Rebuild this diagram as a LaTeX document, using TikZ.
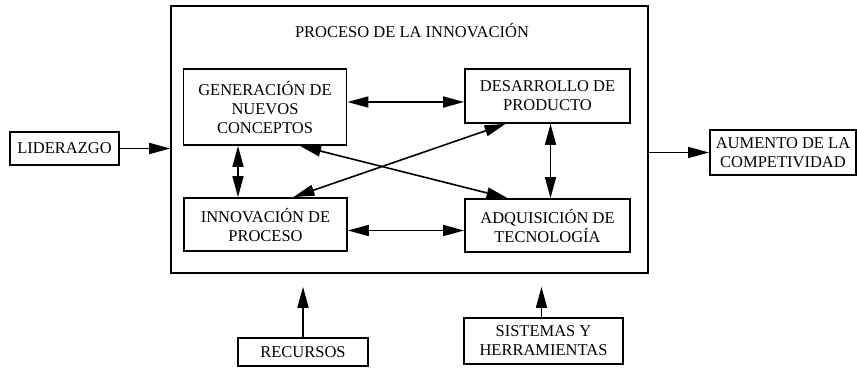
\documentclass[tikz,border=0pt]{standalone}
\usepackage{fontspec}
\setmainfont{Liberation Serif}
\usetikzlibrary{arrows.meta}

\begin{document}
\begin{tikzpicture}[x=1pt,y=-1pt,
  font=\fontsize{16.5}{19}\selectfont,
  caja/.style={draw,line width=1.8pt,align=center,inner sep=0pt},
  >={Triangle[length=21pt,width=11pt]}]
\pgfsetlinewidth{1.6pt}
\useasboundingbox (0,0) rectangle (857,367);
%
% proceso de la innovacion
\node[caja,line width=1.6pt,minimum width=477,minimum height=267] (proc) at (409.5,139.5) {};
\node (titulo) at (412,31) {PROCESO DE LA INNOVACIÓN};
\node[caja,minimum width=163,minimum height=76] (gen) at (265,107) {GENERACIÓN DE\\NUEVOS\\CONCEPTOS};
\node[caja,minimum width=165,minimum height=54] (des) at (547.5,96) {DESARROLLO DE\\PRODUCTO};
\node[caja,minimum width=163,minimum height=53] (inn) at (265.5,224.5) {INNOVACIÓN DE\\PROCESO};
\node[caja,minimum width=165,minimum height=53] (adq) at (547.5,225.5) {ADQUISICIÓN DE\\TECNOLOGÍA};
%
% entradas y salida
\node[caja,minimum width=109,minimum height=33] (lid) at (64.5,148.5) {LIDERAZGO};
\node[caja,minimum width=146,minimum height=45] (aum) at (783,152.5) {AUMENTO DE LA\\COMPETIVIDAD};
\node[caja,minimum width=130,minimum height=28] (rec) at (303,352) {RECURSOS};
\node[caja,minimum width=159,minimum height=46] (sis) at (543.5,341) {SISTEMAS Y\\HERRAMIENTAS};
%
\draw[->] (lid.east) -- (lid.east -| proc.west);
\draw[->] (proc.east |- aum.west) -- (aum.west);
\draw[->,shorten >=13pt] (rec.north) -- (rec.north |- proc.south);
\draw[->,shorten >=13pt] ([xshift=-2]sis.north) -- ([xshift=-2]sis.north |- proc.south);
%
% relaciones internas
\draw[<->] ([yshift=5]gen.east) -- ([yshift=5]gen.east -| des.west);
\draw[<->] ([yshift=-6]inn.east) -- ([yshift=-6]inn.east -| adq.west);
\draw[<->] ([xshift=-27]gen.south) -- ([xshift=-27]gen.south |- inn.north);
\draw[<->] ([xshift=3]des.south) -- ([xshift=3]adq.north);
\draw[<->] ([xshift=35]gen.south) -- ([xshift=-40]adq.north);
\draw[<->] ([xshift=28]inn.north) -- ([xshift=-42]des.south);
\end{tikzpicture}
\end{document}
